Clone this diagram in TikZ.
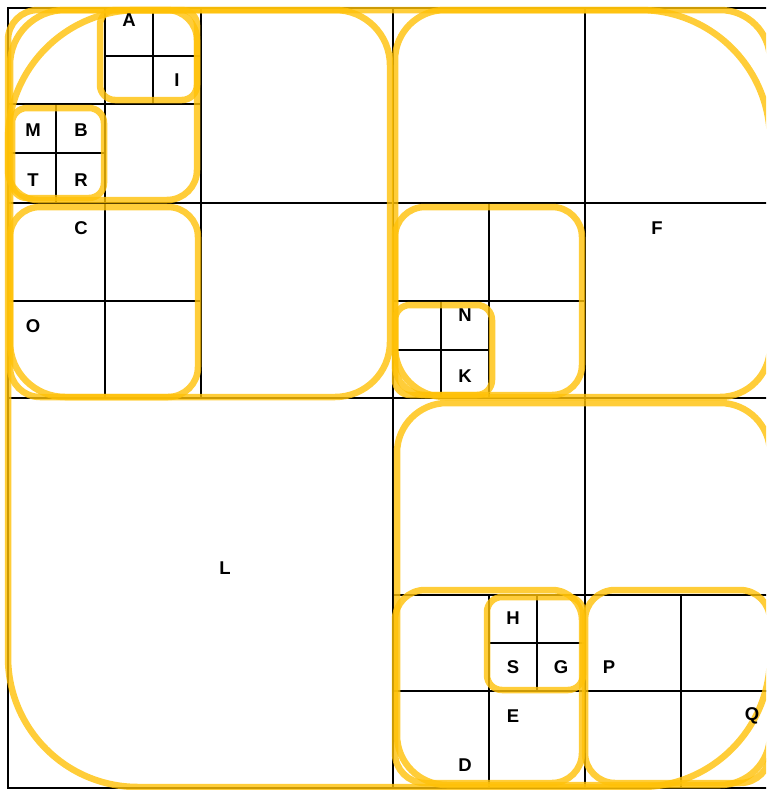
\documentclass[tikz,border=0pt]{standalone}
\usepackage{fontspec}
\setmainfont{Liberation Sans}
\definecolor{hullyellow}{RGB}{255,193,7}

\begin{document}
\begin{tikzpicture}[x=1pt, y=-1pt, grid line/.style={line width=1.8pt},
    hull/.style={draw=hullyellow, line width=6.5pt, opacity=0.8, rounded corners=#1},
    hull/.default=30pt, cell label/.style={font=\bfseries\fontsize{18.5}{18.5}\selectfont}]

    \useasboundingbox (0,0) rectangle (766,790);
    \clip (0,0) rectangle (766,790);

    % the quadtree cells
    \draw[grid line] (8,8) rectangle (778,788);
    \draw[grid line] (393,8) -- (393,788);
    \draw[grid line] (8,398) -- (778,398);
    \draw[grid line] (8,203) -- (778,203);
    \draw[grid line] (201,8) -- (201,398);
    \draw[grid line] (105,8) -- (105,398);
    \draw[grid line] (8,104) -- (201,104);
    \draw[grid line] (153,8) -- (153,104);
    \draw[grid line] (105,56) -- (201,56);
    \draw[grid line] (56,104) -- (56,203);
    \draw[grid line] (8,153) -- (105,153);
    \draw[grid line] (8,301) -- (201,301);

    \draw[grid line] (585,8) -- (585,788);
    \draw[grid line] (489,203) -- (489,398);
    \draw[grid line] (393,301) -- (585,301);
    \draw[grid line] (441,301) -- (441,398);
    \draw[grid line] (393,350) -- (489,350);

    \draw[grid line] (393,595) -- (778,595);
    \draw[grid line] (393,691) -- (778,691);
    \draw[grid line] (489,595) -- (489,788);
    \draw[grid line] (537,595) -- (537,691);
    \draw[grid line] (489,643) -- (585,643);
    \draw[grid line] (681,595) -- (681,788);

    % hulls round the nodes
    \draw[hull=130pt] (8,10) rectangle (770,787);
    \draw[hull=55pt] (10,10) rectangle (390,397);
    \draw[hull=50pt] (395,10) rectangle (770,397);
    \draw[hull=50pt] (397,403) rectangle (770,785);

    \draw[hull] (8,10) rectangle (197,200);
    \draw[hull] (10,207) rectangle (198,397);
    \draw[hull] (395,207) rectangle (582,395);
    \draw[hull] (395,590) rectangle (582,783);
    \draw[hull] (585,590) rectangle (770,783);

    \draw[hull=15pt] (100,10) rectangle (197,100);
    \draw[hull=15pt] (12,108) rectangle (104,198);
    \draw[hull=15pt] (395,305) rectangle (492,395);
    \draw[hull=15pt] (487,597) rectangle (583,690);

    % points
    \node[cell label] (A) at (129,20) {A};
    \node[cell label] (I) at (177,80) {I};
    \node[cell label] (M) at (33,130) {M};
    \node[cell label] (B) at (81,130) {B};
    \node[cell label] (T) at (33,180) {T};
    \node[cell label] (R) at (81,180) {R};
    \node[cell label] (C) at (81,228) {C};
    \node[cell label] (O) at (33,326) {O};
    \node[cell label] (F) at (657,228) {F};
    \node[cell label] (N) at (465,315) {N};
    \node[cell label] (K) at (465,376) {K};
    \node[cell label] (L) at (225,568) {L};
    \node[cell label] (H) at (513,618) {H};
    \node[cell label] (S) at (513,667) {S};
    \node[cell label] (G) at (561,667) {G};
    \node[cell label] (P) at (609,667) {P};
    \node[cell label] (E) at (513,716) {E};
    \node[cell label] (D) at (465,765) {D};
    \node[cell label] (Q) at (752,716) {Q};

\end{tikzpicture}
\end{document}
